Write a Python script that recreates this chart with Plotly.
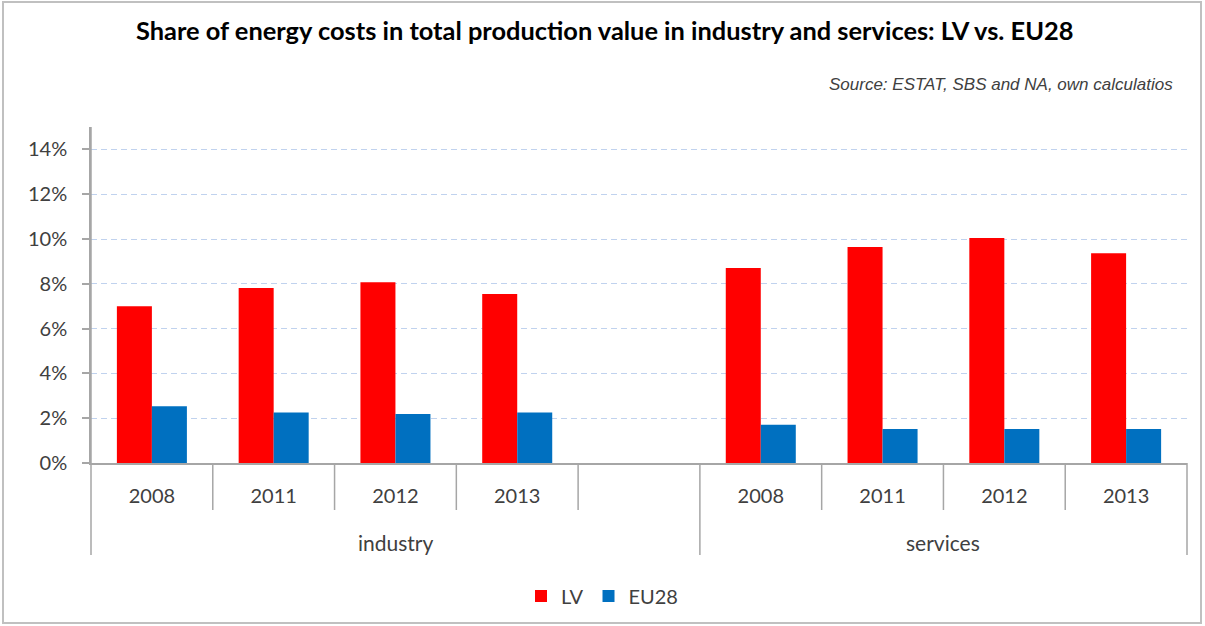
import plotly.graph_objects as go

# ---- data ----
groups = ["industry", "industry", "industry", "industry", "industry",
          "services", "services", "services", "services"]
years = ["2008", "2011", "2012", "2013", "", "2008", "2011", "2012", "2013"]
lv = [0.0700, 0.0781, 0.0807, 0.0755, None, 0.0871, 0.0964, 0.1004, 0.0936]
eu28 = [0.0253, 0.0225, 0.0219, 0.0225, None, 0.0171, 0.0152, 0.0152, 0.0152]
y_ticks = [0, 0.02, 0.04, 0.06, 0.08, 0.10, 0.12, 0.14]

title_text = "Share of energy costs in total production value in industry and services: LV vs. EU28"
source_text = "Source: ESTAT, SBS and NA, own calculatios"

# ---- layout geometry ----
W, H = 1205, 626
ML, MR, MT, MB = 91, 18, 127, 163
PW, PH = W - ML - MR, H - MT - MB


def px_x(px):
    return (px - ML) / PW


def px_y(py):
    return (H - MB - py) / PH


keys = [f"{g}|{y}" for g, y in zip(groups, years)]

FONT = "Lato, Calibri, sans-serif"
TXT = "#404040"
AXC = "#a6a6a6"

fig = go.Figure()
fig.add_trace(go.Bar(x=keys, y=lv, name="LV", marker=dict(color="#ff0000", line=dict(width=0))))
fig.add_trace(go.Bar(x=keys, y=eu28, name="EU28", marker=dict(color="#0070c0", line=dict(width=0))))

shapes = []
# dividers between categories
for i in range(1, len(keys)):
    long_line = groups[i] != groups[i - 1]
    shapes.append(dict(type="line", xref="x", yref="paper",
                       x0=i - 0.5, x1=i - 0.5, y0=0,
                       y1=px_y(555) if long_line else px_y(510),
                       line=dict(color=AXC, width=1.5)))
# outer edges
for xe in (0, 1):
    shapes.append(dict(type="line", xref="paper", yref="paper",
                       x0=xe, x1=xe, y0=0 if xe else 1.0, y1=px_y(555),
                       line=dict(color=AXC, width=1.5)))
# chart frame
shapes.append(dict(type="rect", xref="paper", yref="paper",
                   x0=px_x(3), x1=px_x(1201), y0=px_y(623), y1=px_y(2),
                   line=dict(color="#c0c0c0", width=2), fillcolor="rgba(0,0,0,0)"))

annotations = [
    dict(text=f"<b>{title_text}</b>", xref="paper", yref="paper",
         x=px_x(604), y=px_y(30), xanchor="center", yanchor="middle",
         showarrow=False, font=dict(family=FONT, size=25.4, color="#000000")),
    dict(text=f"<i>{source_text}</i>", xref="paper", yref="paper",
         x=px_x(1175), y=px_y(84), xanchor="right", yanchor="middle",
         showarrow=False, font=dict(family="Liberation Sans, Arial", size=17, color="#404040")),
]
# group labels centered over their categories
for g in dict.fromkeys(groups):
    idx = [i for i, gg in enumerate(groups) if gg == g]
    annotations.append(dict(text=g, xref="x", yref="paper",
                            x=sum(idx) / len(idx), y=px_y(542),
                            xanchor="center", yanchor="middle", showarrow=False,
                            font=dict(family=FONT, size=21, color=TXT)))

fig.update_layout(
    width=W, height=H,
    margin=dict(l=ML, r=MR, t=MT, b=MB, autoexpand=False),
    paper_bgcolor="white", plot_bgcolor="white",
    barmode="group", bargap=0.425, bargroupgap=0,
    font=dict(family=FONT, size=20, color=TXT),
    showlegend=True,
    legend=dict(orientation="h", x=px_x(602), y=px_y(596), xanchor="center", yanchor="middle",
                font=dict(family=FONT, size=20, color=TXT), itemwidth=30,
                traceorder="normal"),
    shapes=shapes,
    annotations=annotations,
    xaxis=dict(type="category", categoryorder="array", categoryarray=keys,
               range=[-0.5, len(keys) - 0.5],
               tickmode="array", tickvals=keys, ticktext=years,
               showline=True, linecolor=AXC, linewidth=1.5,
               ticks="", showgrid=False, zeroline=False,
               ticklabelstandoff=14,
               tickfont=dict(family=FONT, size=20, color=TXT)),
    yaxis=dict(range=[0, 0.15], tickmode="array", tickvals=y_ticks, tickformat=".0%",
               showline=True, linecolor=AXC, linewidth=1.5,
               ticks="outside", ticklen=7, tickcolor=AXC, tickwidth=1.5,
               showgrid=True, gridcolor="#c0d2ee", griddash="6px,4px", gridwidth=1.2,
               zeroline=False, ticklabelstandoff=11,
               tickfont=dict(family=FONT, size=20, color=TXT)),
)

fig.write_html("out.html", config={"displayModeBar": False},
               post_script="document.body.style.margin='0';document.body.style.overflow='hidden';")
